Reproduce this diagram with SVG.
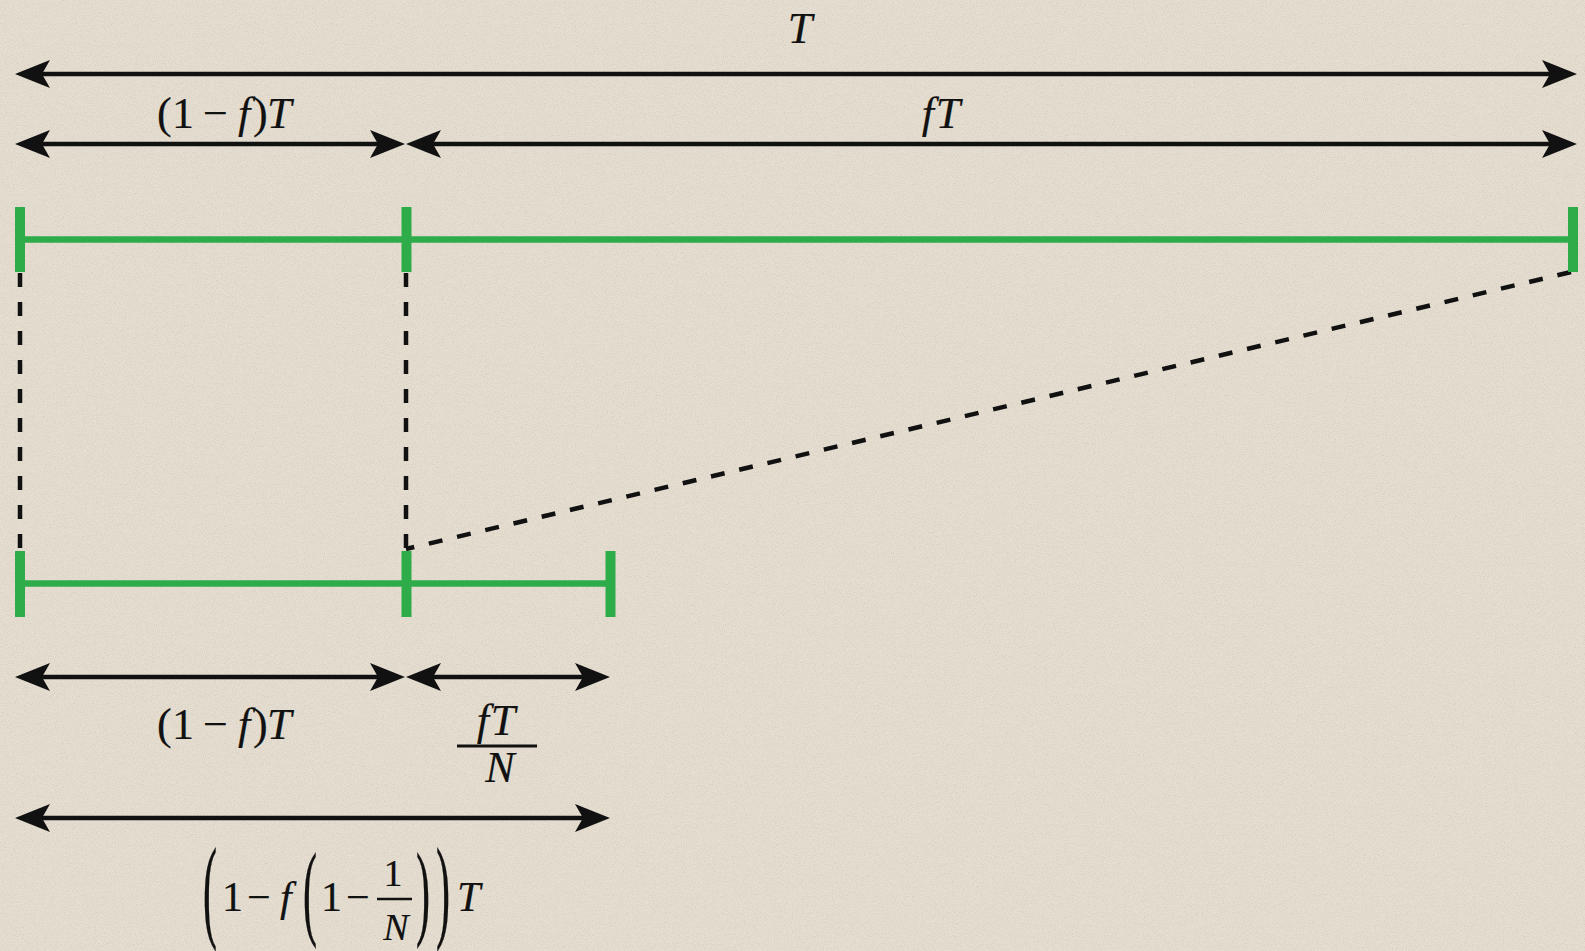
<svg xmlns="http://www.w3.org/2000/svg" width="1585" height="951" viewBox="0 0 1585 951">
  <defs>
    <style>
      .bg { fill: #e5ded1; }
      .dim { stroke: #111; stroke-width: 4.5; fill: none; marker-start: url(#ah); marker-end: url(#ah); }
      .bar { stroke: #2eac4a; stroke-width: 6.5; fill: none; }
      .tick { stroke: #2eac4a; stroke-width: 10; fill: none; }
      .dash { stroke: #111; stroke-width: 4.5; fill: none; stroke-dasharray: 14 15; }
      .lbl { font-family: "Liberation Serif", "Times New Roman", serif; font-size: 44px; fill: #111; stroke: #111; stroke-width: 0.2; }
      .frm { font-family: "Liberation Serif", "Times New Roman", serif; font-size: 42px; fill: #111; stroke: #111; stroke-width: 0.2; }
      .sm { font-size: 38px; }
      .it { font-style: italic; }
      .fbar { stroke: #111; stroke-width: 3; }
    </style>
    <marker id="ah" markerUnits="userSpaceOnUse" viewBox="-12 -16 40 32" markerWidth="40" markerHeight="32" refX="0" refY="0" orient="auto-start-reverse" overflow="visible">
      <path d="M25,0 L-10,-14 L-2,0 L-10,14 Z" fill="#111"/>
    </marker>
    <filter id="grain" x="0" y="0" width="100%" height="100%">
      <feTurbulence type="fractalNoise" baseFrequency="0.9" numOctaves="2" seed="7" result="n"/>
      <feColorMatrix in="n" type="matrix" values="0 0 0 0 0.42  0 0 0 0 0.38  0 0 0 0 0.32  0.9 0 0 0 -0.38"/>
    </filter>
  </defs>

  <rect class="bg" x="0" y="0" width="1585" height="951"/>
  <rect x="0" y="0" width="1585" height="951" filter="url(#grain)" opacity="0.7"/>

  <g id="connectors">
    <line class="dim" x1="40" y1="74" x2="1552" y2="74"/>
    <line class="dim" x1="40" y1="144" x2="380" y2="144"/>
    <line class="dim" x1="431" y1="144" x2="1552" y2="144"/>
    <line class="dim" x1="40" y1="677" x2="380" y2="677"/>
    <line class="dim" x1="431" y1="677" x2="585" y2="677"/>
    <line class="dim" x1="40" y1="818" x2="585" y2="818"/>
    <line class="dash" x1="20" y1="273" x2="20" y2="551"/>
    <line class="dash" x1="406" y1="273" x2="406" y2="551"/>
    <line class="dash" x1="1571" y1="272" x2="406" y2="549"/>
  </g>

  <g id="timeline-full">
    <line class="bar" x1="20" y1="239.5" x2="1573" y2="239.5"/>
    <line class="tick" x1="20" y1="207" x2="20" y2="272"/>
    <line class="tick" x1="406.5" y1="207" x2="406.5" y2="272"/>
    <line class="tick" x1="1573" y1="207" x2="1573" y2="272"/>
  </g>

  <g id="timeline-reduced">
    <line class="bar" x1="20" y1="583.5" x2="610.5" y2="583.5"/>
    <line class="tick" x1="20" y1="551" x2="20" y2="617"/>
    <line class="tick" x1="406.5" y1="551" x2="406.5" y2="617"/>
    <line class="tick" x1="610.5" y1="551" x2="610.5" y2="617"/>
  </g>

  <g id="label-T">
    <text class="lbl it" x="800" y="43" text-anchor="middle">T</text>
  </g>

  <g id="label-top-serial">
    <text class="lbl" y="128"><tspan x="157">(</tspan><tspan x="172">1</tspan><tspan x="203">−</tspan><tspan class="it" x="238">f</tspan><tspan x="253">)</tspan><tspan class="it" x="267">T</tspan></text>
  </g>

  <g id="label-top-parallel">
    <text class="lbl it" x="942" y="128" text-anchor="middle" letter-spacing="2">fT</text>
  </g>

  <g id="label-bottom-serial">
    <text class="lbl" y="739"><tspan x="157">(</tspan><tspan x="172">1</tspan><tspan x="203">−</tspan><tspan class="it" x="238">f</tspan><tspan x="253">)</tspan><tspan class="it" x="267">T</tspan></text>
  </g>

  <g id="label-bottom-parallel">
    <text class="lbl it" x="497" y="735" text-anchor="middle" letter-spacing="2">fT</text>
    <line class="fbar" x1="457" y1="746" x2="537" y2="746"/>
    <text class="lbl it" x="500" y="782" text-anchor="middle">N</text>
  </g>

  <g id="label-total">
    <text class="frm" transform="translate(203,927) scale(1,2.72)">(</text>
    <text class="frm" x="222" y="911">1</text>
    <text class="frm" x="247" y="911">−</text>
    <text class="frm it" x="280" y="911">f</text>
    <text class="frm" transform="translate(303,926) scale(1,2.5)">(</text>
    <text class="frm" x="321" y="911">1</text>
    <text class="frm" x="346" y="911">−</text>
    <text class="frm sm" x="393" y="886" text-anchor="middle">1</text>
    <line class="fbar" x1="377" y1="899" x2="412" y2="899" style="stroke-width:2.5"/>
    <text class="frm sm it" x="396" y="940" text-anchor="middle">N</text>
    <text class="frm" transform="translate(416,926) scale(1,2.5)">)</text>
    <text class="frm" transform="translate(436,927) scale(1,2.72)">)</text>
    <text class="frm it" x="457" y="911">T</text>
  </g>
</svg>
